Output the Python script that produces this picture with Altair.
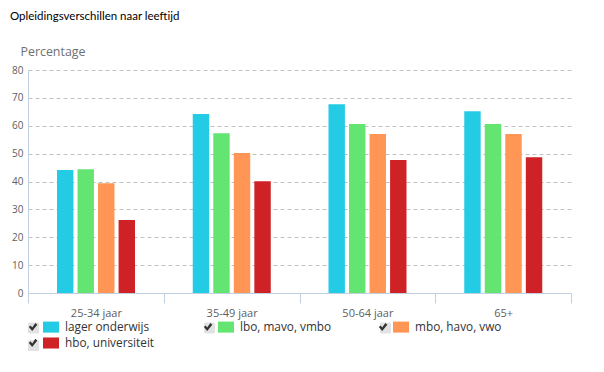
import altair as alt
import pandas as pd

groups = ["25-34 jaar", "35-49 jaar", "50-64 jaar", "65+"]
series = ["lager onderwijs", "lbo, mavo, vmbo", "mbo, havo, vwo", "hbo, universiteit"]
lager = [44.1, 64.2, 67.7, 65.2]
lbo = [44.4, 57.3, 60.6, 60.6]
mbo = [39.4, 50.2, 57.0, 57.0]
hbo = [26.2, 40.1, 47.7, 48.7]
colors = ["#24CBE5", "#64E572", "#FF9655", "#CE2227"]
y_ticks = [0, 10, 20, 30, 40, 50, 60, 70, 80]

rows = []
for s, vals in zip(series, [lager, lbo, mbo, hbo]):
    for g, v in zip(groups, vals):
        rows.append({"group": g, "series": s, "value": v})
df = pd.DataFrame(rows)

# separate keys for the checkbox legend parts (so Vega-Lite keeps them apart)
box_keys = ["box:" + s for s in series]
chk_keys = ["chk:" + s for s in series]

FONT = "Open Sans"

# legend glyph shapes (unit box -1..1)
RECT = "M-1,-0.69H1V0.69H-1Z"
BOX = ("M-0.69,-0.5Q-0.69,-0.69 -0.5,-0.69H0.5Q0.69,-0.69 0.69,-0.5V0.5"
       "Q0.69,0.69 0.5,0.69H-0.5Q-0.69,0.69 -0.69,0.5Z")
CHECK = "M-0.52,0.0L-0.3,-0.21L-0.1,0.06L0.3,-0.52L0.54,-0.3L-0.1,0.5Z"

LEG_Y = 249
COMMON_LEG = dict(
    title=None,
    orient="none",
    legendY=LEG_Y,
    columns=3,
    direction="horizontal",
    gridAlign="all",
    rowPadding=1,
    symbolSize=256,
    labelFontSize=11.8,
    labelFont=FONT,
)

base = alt.Chart(df).encode(
    x=alt.X(
        "group:N",
        sort=groups,
        scale=alt.Scale(paddingInner=0, paddingOuter=0),
        axis=alt.Axis(
            title=None,
            labelAngle=0,
            tickBand="extent",
            tickSize=10,
            tickColor="#C0D0E0",
            domainColor="#C0D0E0",
            labelPadding=4,
            labelFontSize=11,
            labelColor="#606060",
            labelFont=FONT,
        ),
    ),
    xOffset=alt.XOffset(
        "series:N",
        sort=series,
        scale=alt.Scale(paddingInner=0.2, paddingOuter=0, range=[29, 107]),
    ),
    y=alt.Y(
        "value:Q",
        scale=alt.Scale(domain=[0, 80]),
        axis=alt.Axis(
            values=y_ticks,
            title="Percentage",
            titleAngle=0,
            titleX=-8,
            titleY=-12,
            titleAlign="left",
            titleBaseline="bottom",
            titleFontSize=12.4,
            titleFontWeight="normal",
            titleColor="#707070",
            titleFont=FONT,
            ticks=False,
            labelPadding=5,
            labelFontSize=10,
            labelColor="#606060",
            labelFont=FONT,
            domainColor="#C0D0E0",
            gridColor="#C0C0C0",
            gridDash=[4, 3],
        ),
    ),
)

bars = base.mark_bar().encode(
    color=alt.Color(
        "series:N",
        sort=series,
        scale=alt.Scale(domain=series, range=colors),
        legend=alt.Legend(
            legendX=15,
            columnPadding=61,
            symbolType=RECT,
            symbolStrokeWidth=0,
            symbolOpacity=1,
            labelOffset=6,
            labelColor="#333333",
            **COMMON_LEG,
        ),
    ),
)

# legend-only layers (no marks drawn): checkbox frame and check mark
boxes = base.transform_filter("datum.value < 0").transform_calculate(
    box="'box:' + datum.series"
).mark_point(
    filled=True, color="#E2E2E2", stroke="#8C8C8C", strokeWidth=1, shape=BOX
).encode(
    opacity=alt.Opacity(
        "box:N",
        sort=box_keys,
        scale=alt.Scale(domain=box_keys, range=[1, 1, 1, 1]),
        legend=alt.Legend(
            legendX=-3,
            columnPadding=159,
            labelExpr="''",
            labelOffset=0,
            symbolType=BOX,
            symbolFillColor="#E2E2E2",
            symbolStrokeColor="#8C8C8C",
            symbolStrokeWidth=1,
            **COMMON_LEG,
        ),
    ),
)

checks = base.transform_filter("datum.value < 0").transform_calculate(
    chk="'chk:' + datum.series"
).mark_point(
    filled=True, color="#333333", strokeWidth=0
).encode(
    shape=alt.Shape(
        "chk:N",
        sort=chk_keys,
        scale=alt.Scale(domain=chk_keys, range=[CHECK] * len(series)),
        legend=alt.Legend(
            legendX=-3,
            columnPadding=159,
            labelExpr="''",
            labelOffset=0,
            symbolFillColor="#333333",
            symbolStrokeWidth=0,
            symbolOpacity=1,
            **COMMON_LEG,
        ),
    ),
)

chart = alt.layer(bars, boxes, checks).properties(
    width=543,
    height=223,
    autosize=alt.AutoSizeParams(type="none"),
    padding={"left": 20, "top": 62, "right": 25, "bottom": 70},
    title=alt.TitleParams(
        "Opleidingsverschillen naar leeftijd",
        anchor="start",
        frame="group",
        fontSize=11.5,
        fontWeight="normal",
        color="#000000",
        font="Lato",
        dx=-18,
        offset=23,
    ),
).configure_view(stroke=None)

chart.save("out.html", embed_options={"renderer": "svg", "actions": False})
